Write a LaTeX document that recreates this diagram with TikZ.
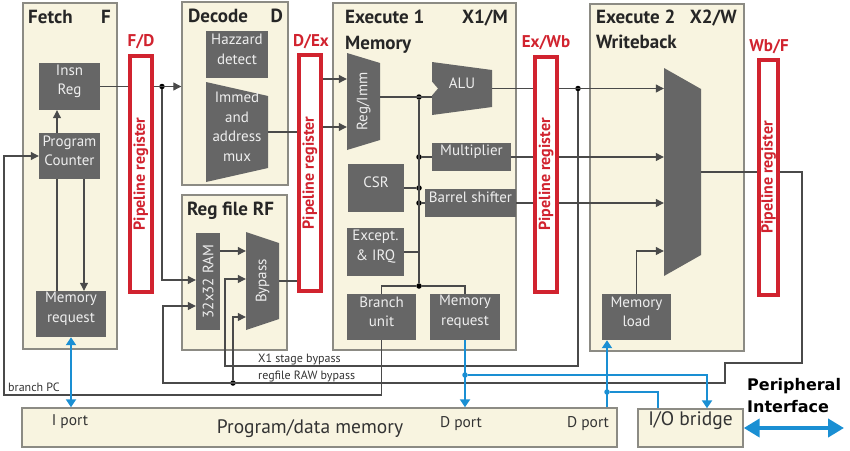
\documentclass[tikz,border=0pt]{standalone}
\usepackage{fontspec}
\setmainfont{PT Sans}
\newfontfamily\periface{DejaVu Sans}
\usetikzlibrary{arrows.meta,fit}

\definecolor{stagefill}{HTML}{F8F4E0}
\definecolor{stageline}{HTML}{8C8B84}
\definecolor{blockgrey}{HTML}{666666}
\definecolor{blocktext}{HTML}{EEEEEE}
\definecolor{regred}{HTML}{D1232F}
\definecolor{wiregrey}{HTML}{4A4A4A}
\definecolor{busblue}{HTML}{1A8FD3}

\newcommand\blockfont{\fontsize{15}{19.5}\selectfont}
\newcommand\stagefont{\bfseries\fontsize{19}{23}\selectfont}
\newcommand\regfont{\bfseries\fontsize{16}{19}\selectfont}
\newcommand\reglabelfont{\bfseries\fontsize{17}{20}\selectfont}
\newcommand\smallfont{\fontsize{12}{14}\selectfont}
\newcommand\memfont{\fontsize{19.5}{23}\selectfont}
\newcommand\portfont{\fontsize{15.5}{18}\selectfont}

\begin{document}
\begin{tikzpicture}[x=1pt,y=-1pt,
    stage/.style={draw=stageline,fill=stagefill,line width=1.4pt,inner sep=0pt},
    block/.style={fill=blockgrey,text=blocktext,inner sep=0pt,align=center,font=\blockfont},
    blocklabel/.style={rotate=90,text=blocktext,inner sep=0pt,font=\blockfont},
    mux/.style={fill=stagefill,text=blocktext,inner sep=0pt,align=center,font=\blockfont,
        path picture={\fill[blockgrey] (path picture bounding box.north west)
            -- ([yshift=-#1]path picture bounding box.north east)
            -- ([yshift=#1]path picture bounding box.south east)
            -- (path picture bounding box.south west) -- cycle;}},
    alu/.style={fill=stagefill,text=blocktext,inner sep=0pt,font=\blockfont,
        path picture={\fill[blockgrey] (path picture bounding box.north west)
            -- ([yshift=-8pt]path picture bounding box.north east)
            -- ([yshift=8pt]path picture bounding box.south east)
            -- (path picture bounding box.south west)
            -- ([yshift=-7pt]path picture bounding box.west)
            -- ([xshift=6pt]path picture bounding box.west)
            -- ([yshift=7pt]path picture bounding box.west) -- cycle;}},
    pipereg/.style={draw=regred,fill=white,line width=3.5pt,inner sep=0pt},
    regtext/.style={rotate=90,text=regred,font=\regfont,inner sep=0pt},
    reglabel/.style={text=regred,font=\reglabelfont,anchor=base,inner sep=0pt},
    stagetitle/.style={font=\stagefont,text=black!85,anchor=base west,inner sep=0pt},
    smalllabel/.style={font=\smallfont,text=black!80,anchor=base west,inner sep=0pt},
    wire/.style={draw=wiregrey,line width=1.1pt},
    arr/.style={wire,-{Triangle[length=8pt,width=8pt]}},
    bus/.style={draw=busblue,line width=2.4pt},
    busarr/.style={bus,-{Triangle[length=8pt,width=10pt]}},
    junction/.style={circle,fill=black,inner sep=0pt,minimum size=5.5pt},
    bluejunction/.style={junction,fill=busblue},
]
\useasboundingbox (0,0) rectangle (850,450);

% stages
\node[stage, fit={(23,3) (117,349)}] (fetch) {};
\node[stage, fit={(182,2) (288,185)}] (decode) {};
\node[stage, fit={(182,195) (287,350)}] (regfile) {};
\node[stage, fit={(333,3) (516,350)}] (exec1) {};
\node[stage, fit={(590,4) (744,351)}] (exec2) {};
\node[stage, fit={(22,408) (617,447)}] (mem) {};
\node[stage, fit={(638,409) (743,447)}, font=\memfont, text=black!80] (iob) {I/O bridge};

\node[stagetitle] (fetch title) at (28,23) {Fetch};
\node[stagetitle, anchor=base east] (fetch tag) at (111,23) {F};
\node[stagetitle] (decode title) at (188,22) {Decode};
\node[stagetitle, anchor=base east] (decode tag) at (283,22) {D};
\node[stagetitle] (regfile title) at (187,215) {Reg file RF};
\node[stagetitle] (exec1 title) at (345,23) {Execute 1};
\node[stagetitle, anchor=base east] (exec1 tag) at (508,23) {X1/M};
\node[stagetitle] (exec1 sub) at (345,49) {Memory};
\node[stagetitle] (exec2 title) at (596,23) {Execute 2};
\node[stagetitle, anchor=base east] (exec2 tag) at (737,23) {X2/W};
\node[stagetitle] (exec2 sub) at (596,48) {Writeback};

\node[font=\memfont, text=black!80, anchor=base] (mem text) at (310,433) {Program/data memory};
\node[font=\portfont, text=black!80, anchor=base] (iport) at (70,425) {I port};
\node[font=\portfont, text=black!80, anchor=base] (dport a) at (461,427) {D port};
\node[font=\portfont, text=black!80, anchor=base] (dport b) at (588,427) {D port};

% blocks
\node[block, fit={(39,63) (100,110)}] (insn) {Insn\\Reg};
\node[block, fit={(39,133) (100,179)}] (pc) {Program\\Counter};
\node[block, fit={(36,291) (106,337)}] (memf) {Memory\\request};
\node[block, fit={(206,31) (268,78)}] (hazard) {Hazzard\\detect};
\node[mux=14pt, fit={(206,82) (268,182)}] (imm) {Immed\\and\\address\\mux};
\node[block, fit={(196,233) (220,330)}] (ram) {};
\node[blocklabel] (ram text) at (ram) {32x32 RAM};
\node[mux=11pt, fit={(246,232) (279,330)}] (bypass) {};
\node[blocklabel] (bypass text) at (bypass) {Bypass};
\node[mux=10pt, fit={(347,53) (380,150)}] (regimm) {};
\node[blocklabel] (regimm text) at (regimm) {Reg/Imm};
\node[alu, fit={(432,62) (492,115)}] (alu) {ALU};
\node[block, fit={(432,143) (511,171)}] (mul) {Multiplier};
\node[block, fit={(348,164) (404,212)}] (csr) {CSR};
\node[block, fit={(425,189) (516,217)}] (shift) {Barrel shifter};
\node[block, fit={(347,228) (404,276)}] (exc) {Except.\\\& IRQ};
\node[block, fit={(347,294) (416,340)}] (branch) {Branch\\unit};
\node[block, fit={(430,294) (500,340)}] (memx) {Memory\\request};
\node[mux=21pt, fit={(664,68) (701,276)}] (wbmux) {};
\node[block, fit={(602,294) (671,340)}] (memload) {Memory\\load};

% pipeline registers
\node[pipereg, fit={(130,56) (152,292)}] (fd) {};
\node[pipereg, fit={(299,55) (321,291)}] (dex) {};
\node[pipereg, fit={(535,57) (557,292)}] (exwb) {};
\node[pipereg, fit={(759,60) (778,295)}] (wbf) {};
\node[regtext] (fd text) at (fd) {Pipeline register};
\node[regtext] (dex text) at (dex) {Pipeline register};
\node[regtext] (exwb text) at (exwb) {Pipeline register};
\node[regtext] (wbf text) at (wbf) {Pipeline register};
\node[reglabel] (fd label) at (141,46) {F/D};
\node[reglabel] (dex label) at (311,46) {D/Ex};
\node[reglabel] (exwb label) at (546,47) {Ex/Wb};
\node[reglabel] (wbf label) at (769,51) {Wb/F};

% junctions
\node[junction] (fd tap) at (162,0 |- insn.east) {};
\node[junction] (alu in) at (419,97) {};
\node[junction] (mul tap) at (419,0 |- mul.west) {};
\node[junction] (csr tap) at (419,0 |- csr.east) {};
\node[junction] (shift tap) at (419,0 |- shift.west) {};
\node[junction] (bus end) at (419,286) {};
\node[junction] (x1 tap) at (578,0 |- alu.east) {};
\node[junction] (raw tap) at (233,383) {};
\node[bluejunction] (dmem tap) at (memx.south |- 0,375) {};
\node[bluejunction] (ld tap) at (607,392) {};

% fetch
\draw[arr] (57,0 |- pc.north) -- (57,0 |- insn.south);
\draw[wire] (57,0 |- pc.south) -- (57,0 |- memf.north);
\draw[arr] (84,0 |- pc.south) -- (84,0 |- memf.north);
\draw[wire] (insn.east) -- (insn.east -| fd.west);
\draw[arr] (fd.east |- insn.east) -- (decode.west |- insn.east);
\draw[arr] (fd tap) |- (ram.west |- 0,280);
\draw[arr] (branch.south) |- (4,395) |- (pc.west);

% decode and register file
\draw[wire] (imm.east) -- (imm.east -| dex.west);
\draw[arr] (ram.east |- 0,251) -- (bypass.west |- 0,251);
\draw[wire] (bypass.east) -- (bypass.east -| dex.west);
\draw[arr] (dex.east |- 0,79) -- (regimm.west |- 0,79);
\draw[arr] (dex.east |- 0,127) -- (regimm.west |- 0,127);

% execute 1
\draw[wire] (regimm.east |- 0,97) -- (alu.west |- 0,97);
\draw[wire] (alu in) -- (bus end);
\draw[wire] (mul tap) -- (mul.west);
\draw[wire] (csr.east) -- (csr tap);
\draw[wire] (shift tap) -- (shift.west);
\draw[wire] (exc.east) -- (exc.east -| bus end);
\draw[wire] (branch.north) |- (bus end) -| (memx.north);
\draw[wire] (alu.east) -- (alu.east -| exwb.west);
\draw[wire] (mul.east) -- (mul.east -| exwb.west);
\draw[wire] (shift.east) -- (shift.east -| exwb.west);

% execute 2
\draw[arr] (exwb.east |- alu.east) -- (wbmux.west |- alu.east);
\draw[arr] (exwb.east |- mul.east) -- (wbmux.west |- mul.east);
\draw[arr] (exwb.east |- shift.east) -- (wbmux.west |- shift.east);
\draw[arr] (memload.north) |- (wbmux.west |- 0,251);
\draw[wire] (wbmux.east) -- (wbmux.east -| wbf.west);

% bypass paths
\draw[arr] (x1 tap) |- (225,366) |- (bypass.west |- 0,279);
\draw[arr] (wbf.east |- wbmux.east) -| (802,363) -| (725,383) -- (163,383) |- (ram.west |- 0,306);
\draw[arr] (raw tap) |- (bypass.west |- 0,317);
\node[smalllabel] (x1 label) at (258,362) {X1 stage bypass};
\node[smalllabel] (raw label) at (258,379) {regfile RAW bypass};
\node[smalllabel] (branch label) at (8,391) {branch PC};

% memory buses
\draw[bus, {Triangle[length=8pt,width=10pt]}-{Triangle[length=8pt,width=10pt]}] (memf.south) -- (memf.south |- mem.north);
\draw[busarr] (memx.south) -- (memx.south |- mem.north);
\draw[busarr] (dmem tap) -| (707,0 |- iob.north);
\draw[busarr] (607,0 |- mem.north) -- (607,0 |- memload.south);
\draw[bus] (ld tap) -| (658,0 |- iob.north);
\coordinate (periph) at (844,0 |- iob.east);
\draw[bus, line width=4pt, {Triangle[length=16pt,width=18pt]}-{Triangle[length=16pt,width=18pt]}] (iob.east) -- (periph);
\node[font=\periface\bfseries\fontsize{16}{22}\selectfont, anchor=north west, align=left, inner sep=0pt] (periph text) at (747,378) {Peripheral\\Interface};
\end{tikzpicture}
\end{document}
